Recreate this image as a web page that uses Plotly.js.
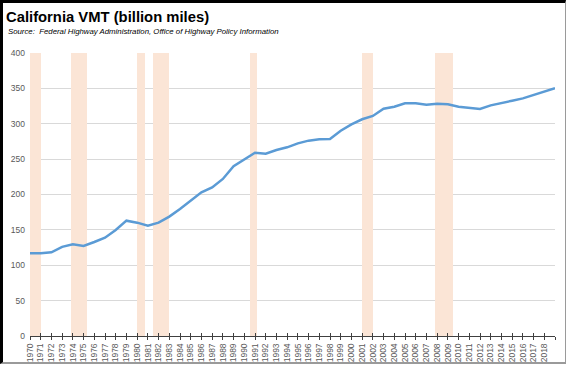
<!DOCTYPE html>
<html>
<head>
<meta charset="utf-8">
<script src="https://cdn.plot.ly/plotly-3.0.1.min.js"></script>
<style>
  html, body { margin: 0; padding: 0; background: #fff; }
  #wrap { position: relative; width: 566px; height: 366px; overflow: hidden; }
  #chart { position: absolute; left: 0; top: 0; width: 566px; height: 366px; }
  #frame { position: absolute; left: 0; top: 0; width: 566px; height: 364px; box-sizing: border-box;
           border-top: 3px solid #000; border-left: 3px solid #000;
           border-right: 1px solid #9a9a9a; border-bottom: 2px solid #9a9a9a; pointer-events: none; }
</style>
</head>
<body>
<div id="wrap"><div id="chart"></div><div id="frame"></div></div>
<script>
// ---- data ----
const years = [1970,1971,1972,1973,1974,1975,1976,1977,1978,1979,
               1980,1981,1982,1983,1984,1985,1986,1987,1988,1989,
               1990,1991,1992,1993,1994,1995,1996,1997,1998,1999,
               2000,2001,2002,2003,2004,2005,2006,2007,2008,2009,
               2010,2011,2012,2013,2014,2015,2016,2017,2018,2019];
const vmt = [117,117,118.3,126,129.6,127.2,132.9,139,149.8,163,
             160.2,156,160.2,168.7,179.5,191,203,210,222,240,
             250,259,257.7,262.9,266.7,272.3,276.1,278,278.4,290.2,
             299.2,306.3,311,321.3,324.1,328.9,328.9,327,328.3,327.5,
             324.1,322.7,320.8,326,329.8,332.6,335.9,340.6,344.9,350.1];
// recession periods (decimal years)
const recessionStart = [1970.0, 1973.8, 1980.0, 1981.5, 1990.5, 2001.0, 2007.8];
const recessionEnd   = [1971.0, 1975.3, 1980.7, 1983.0, 1991.2, 2002.0, 2009.45];
const recessionHeight = 400;
const tickYears = years;
const tickLabels = years.map(y => y <= 2018 ? String(y) : '');

const centers = recessionStart.map((s, i) => (s + recessionEnd[i]) / 2);
const widths = recessionStart.map((s, i) => recessionEnd[i] - s);

const tickFont = {family: 'Liberation Sans, Arial, sans-serif', size: 8.5, color: '#595959'};

const traces = [
  {
    type: 'bar', x: centers, y: recessionStart.map(() => recessionHeight), width: widths,
    marker: {color: '#FBE5D6', line: {width: 0}}, hoverinfo: 'skip', showlegend: false
  },
  {
    type: 'scatter', mode: 'lines', x: years, y: vmt,
    line: {color: '#5B9BD5', width: 2.5}, hoverinfo: 'x+y', showlegend: false
  },
  {
    type: 'scatter', mode: 'lines', x: [years[0]], y: [0], xaxis: 'x2',
    line: {width: 0}, hoverinfo: 'skip', showlegend: false
  }
];

const layout = {
  width: 566, height: 366,
  margin: {l: 30, r: 11, t: 53, b: 30, pad: 0},
  paper_bgcolor: '#fff', plot_bgcolor: '#fff',
  bargap: 0,
  title: {
    text: '<b>California VMT (billion miles)</b>',
    font: {family: 'Liberation Sans, Arial, sans-serif', size: 14.8, color: '#000'},
    x: 6/566, xanchor: 'left', xref: 'container',
    y: 1 - 17/366, yanchor: 'middle', yref: 'container'
  },
  annotations: [{
    text: '<i>Source:  Federal Highway Administration, Office of Highway Policy Information</i>',
    xref: 'paper', yref: 'paper', x: (6 - 30) / 525, y: 1 + (53 - 31.5) / 283,
    xanchor: 'left', yanchor: 'middle', showarrow: false,
    font: {family: 'Liberation Sans, Arial, sans-serif', size: 7.8, color: '#000'}
  }],
  xaxis: {
    range: [1970, 2019], tickmode: 'array', tickvals: tickYears, ticktext: tickLabels,
    tickangle: -90, tickfont: tickFont, ticks: 'outside', ticklen: 3, tickcolor: '#404040', tickwidth: 1,
    showline: true, linecolor: '#404040', linewidth: 1, showgrid: false, zeroline: false,
    fixedrange: true
  },
  xaxis2: {
    range: [1970, 2019], overlaying: 'x', anchor: 'y', side: 'bottom',
    tickmode: 'array', tickvals: tickYears, ticktext: tickLabels, showticklabels: false,
    ticks: 'inside', ticklen: 3, tickcolor: '#404040', tickwidth: 1,
    showline: false, showgrid: false, zeroline: false
  },
  yaxis: {
    range: [0, 400], dtick: 50, tick0: 0, tickfont: tickFont,
    showgrid: true, gridcolor: '#d9d9d9', gridwidth: 1, zeroline: false, showline: false,
    ticks: '', ticklabelstandoff: 4, fixedrange: true
  }
};

Plotly.newPlot('chart', traces, layout, {displayModeBar: false, staticPlot: true});
</script>
</body>
</html>
